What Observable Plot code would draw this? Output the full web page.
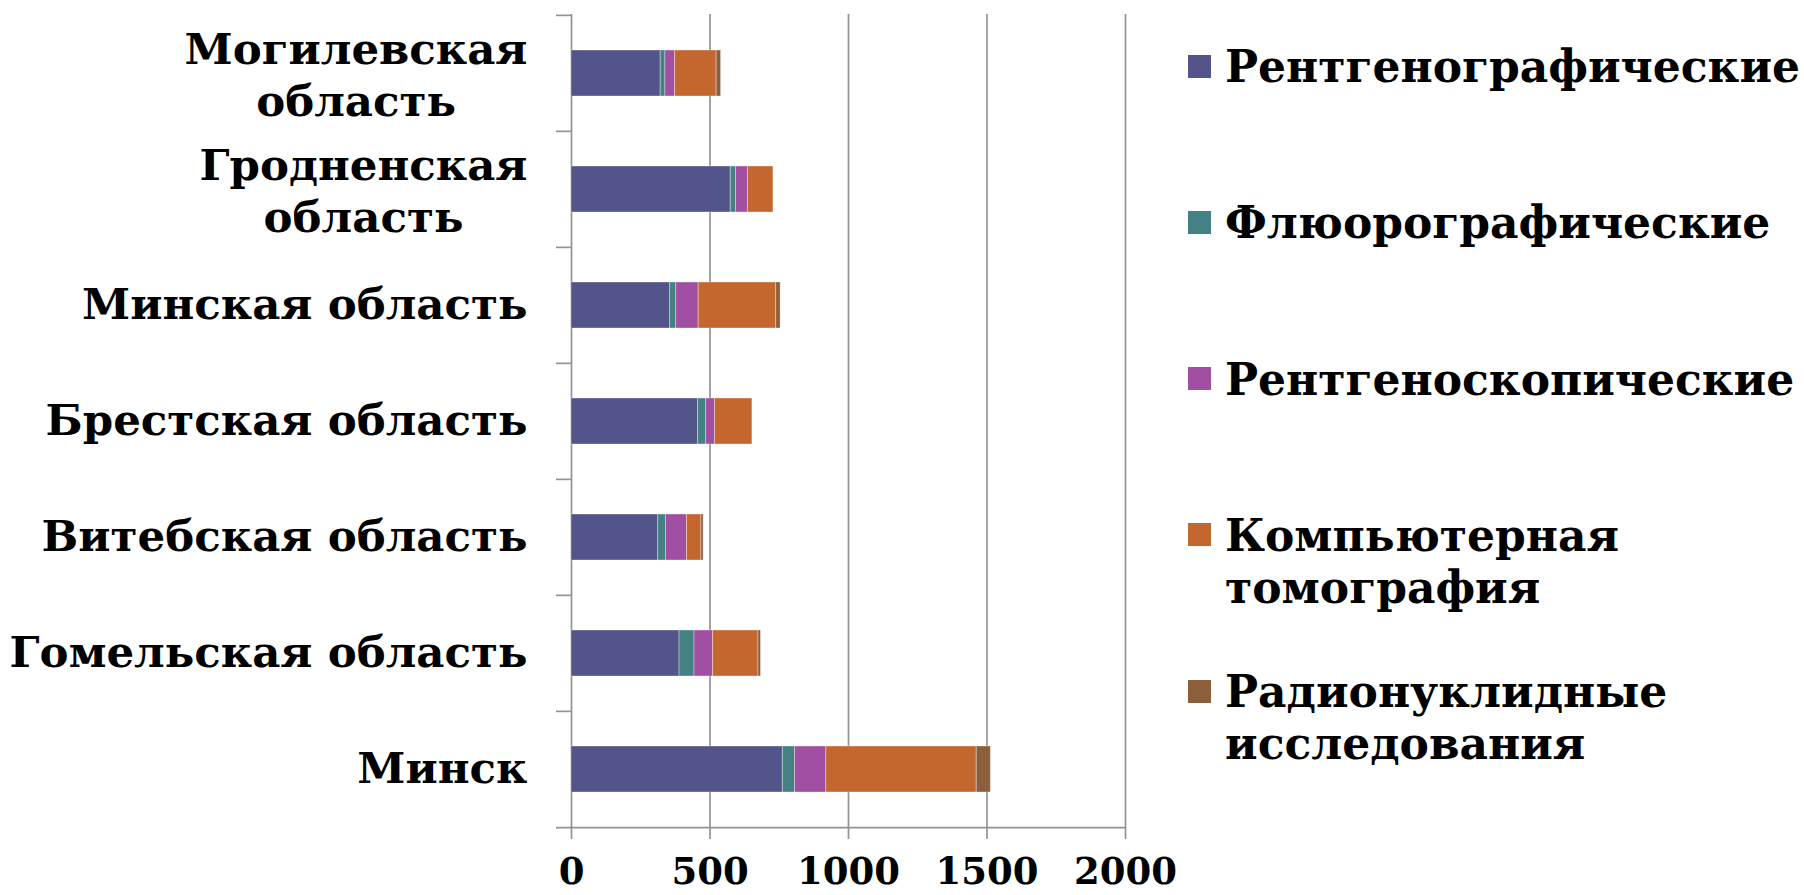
<!DOCTYPE html>
<html><head><meta charset="utf-8">
<script src="https://cdn.jsdelivr.net/npm/d3@7"></script>
<script src="https://cdn.jsdelivr.net/npm/@observablehq/plot@0.6"></script>
<style>
body{margin:0;background:#fff;}
#wrap{position:relative;width:1804px;height:895px;overflow:hidden;background:#fff;}
#legend .item{position:absolute;left:1188px;display:flex;align-items:flex-start;font-family:"DejaVu Serif";font-weight:bold;font-size:44px;line-height:52px;color:#000;white-space:pre;}
#legend .sw{width:23px;height:23px;margin-top:13.5px;margin-right:14px;flex:none;}
</style></head>
<body><div id="wrap"><div id="chart"></div><div id="legend"></div></div>
<script>
const regions = ["Могилевская область","Гродненская область","Минская область","Брестская область","Витебская область","Гомельская область","Минск"];
const types = ["Рентгенографические","Флюорографические","Рентгеноскопические","Компьютерная томография","Радионуклидные исследования"];
const legendLabels = ["Рентгенографические","Флюорографические","Рентгеноскопические","Компьютерная\nтомография","Радионуклидные\nисследования"];
const colors = ["#535489","#438182","#A04FA3","#C4672E","#8B5E3C"];
const rentgenograph = [322, 575, 356, 457, 313, 390, 763];
const fluoro = [17, 19, 22, 29, 28, 54, 44];
const rentgenoskop = [35, 43, 81, 32, 76, 67, 113];
const ct = [150, 92, 280, 135, 52, 164, 543];
const radio = [16, 0, 16, 0, 8, 9, 51];
const xTicks = [0, 500, 1000, 1500, 2000];

const series = [rentgenograph, fluoro, rentgenoskop, ct, radio];
const data = [];
regions.forEach((r, i) => series.forEach((s, j) => data.push({region: r, type: types[j], value: s[i]})));

const W = 1190, H = 895, mL = 571, mR = 65, mT = 14, mB = 67;
const step = (H - mT - mB) / regions.length;
const gray = "#939393";
const FONT = "DejaVu Serif";
const labelSize = 43.5;

const ctx = document.createElement("canvas").getContext("2d");
ctx.font = `bold ${labelSize}px "${FONT}"`;
const labelGap = 44;

const doubles = ["Могилевская область","Гродненская область"];
const singles = regions.filter(r => !doubles.includes(r));

const labelMarks = [
  Plot.text(singles, {y: d => d, text: d => d, frameAnchor: "left", textAnchor: "end", dx: -labelGap, fontSize: labelSize, fontWeight: "bold", fill: "#000"}),
  ...doubles.map(d => {
    const lines = d.split(" ");
    const w = Math.max(...lines.map(l => ctx.measureText(l).width));
    return Plot.text([d], {y: v => v, text: v => v.replace(" ", "\n"), frameAnchor: "left", textAnchor: "middle", dx: -labelGap - w / 2, lineHeight: 1.2, fontSize: labelSize, fontWeight: "bold", fill: "#000"});
  })
];

const chart = Plot.plot({
  width: W, height: H,
  marginLeft: mL, marginRight: mR, marginTop: mT, marginBottom: mB,
  style: {fontFamily: FONT, fontWeight: "bold", color: "#000", background: "#fff"},
  x: {domain: [0, 2000], axis: null},
  y: {domain: regions, paddingInner: 0.6, paddingOuter: 0.3, axis: null},
  color: {domain: types, range: colors},
  marks: [
    Plot.gridX(xTicks, {stroke: gray, strokeOpacity: 1, strokeWidth: 1.7}),
    Plot.axisX({ticks: xTicks, label: null, tickSize: 11, tickPadding: 18, stroke: gray, strokeWidth: 1.7, fontSize: 37, fontWeight: "bold", tickFormat: d => String(d)}),
    Plot.ruleY(regions, {y: d => d, x1: 0, x2: 0, insetLeft: -15, dy: -step / 2, stroke: gray, strokeWidth: 1.7}),
    Plot.ruleY(["Минск"], {y: d => d, x1: 0, x2: 2000, insetLeft: -15, dy: step / 2, stroke: gray, strokeWidth: 1.7}),
    Plot.barX(data, Plot.stackX({y: "region", x: "value", fill: "type", order: types, stroke: "#fff", strokeOpacity: 0.35, strokeWidth: 1})),
    ...labelMarks
  ]
});
document.getElementById("chart").appendChild(chart);

const legend = document.getElementById("legend");
legendLabels.forEach((t, i) => {
  const item = document.createElement("div");
  item.className = "item";
  item.style.top = (41 + i * 156.3) + "px";
  const sw = document.createElement("div");
  sw.className = "sw";
  sw.style.background = colors[i];
  const tx = document.createElement("div");
  tx.textContent = t;
  item.appendChild(sw); item.appendChild(tx);
  legend.appendChild(item);
});
</script></body></html>
